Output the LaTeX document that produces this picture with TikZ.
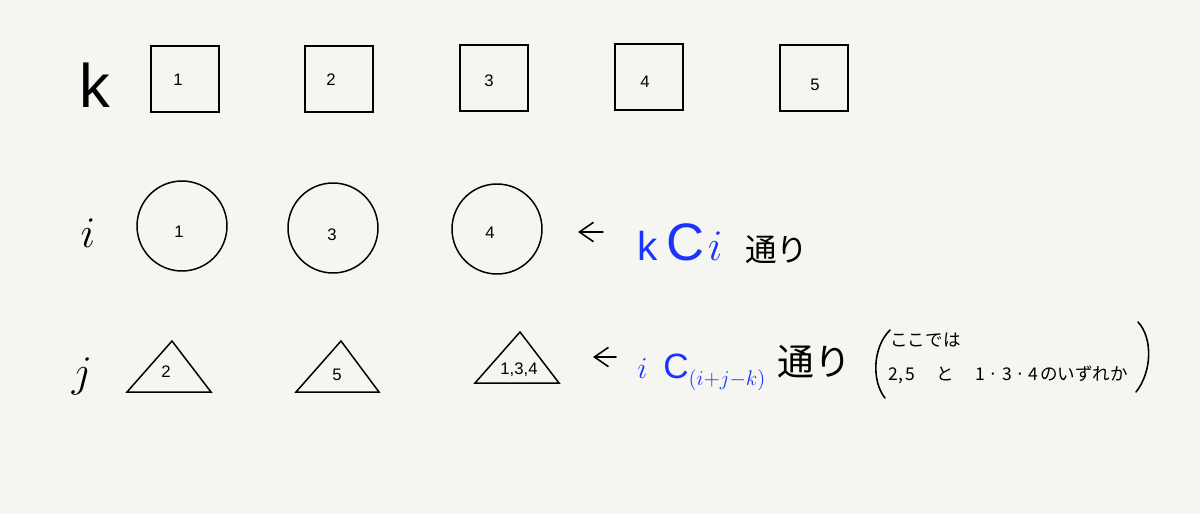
\documentclass[tikz,border=0pt]{standalone}
\usepackage{fontspec}
\setmainfont{Liberation Sans}
\newfontfamily\jp{Noto Sans CJK JP}
\usetikzlibrary{arrows.meta}
\definecolor{paper}{HTML}{F5F5F1}
\definecolor{pen}{HTML}{1A33FF}
\tikzset{
  kbox/.style={draw, line width=1.1pt, minimum width=1.36cm, minimum height=1.32cm, inner sep=0pt},
  iball/.style={draw, circle, line width=0.85pt, minimum size=1.8cm, inner sep=0pt},
  jtri/.style={draw, line width=0.85pt, line join=miter},
  num/.style={font=\fontsize{9.5}{11}\selectfont, inner sep=0pt},
  var/.style={font=\fontsize{36}{40}\selectfont, inner sep=0pt},
  memo/.style={inner sep=0pt, anchor=west},
  hand/.style={line width=0.9pt, line cap=round, -{Straight Barb[length=8pt,width=11pt]}},
  paren/.style={line width=0.9pt, line cap=round}
}
\begin{document}
\begin{tikzpicture}[x=0.02cm, y=-0.02cm]
        \path[fill=paper] (0,0) rectangle (1200,514);
        % row labels
        \node[var] (k) at (95,85) {\fontsize{35}{40}\selectfont k};
        \node[var] (i) at (88,233) {$i$};
        \node[var] (j) at (82,376) {$j$};
        % k : squares
        \node[kbox] (k1) at (185,79) {};
        \node[kbox] (k2) at (339,79) {};
        \node[kbox] (k3) at (494,78) {};
        \node[kbox] (k4) at (649,77) {};
        \node[kbox] (k5) at (814,78) {};
        \node[num] (k1n) at (178,80) {1};
        \node[num] (k2n) at (331,80) {2};
        \node[num] (k3n) at (489,81) {3};
        \node[num] (k4n) at (645,82) {4};
        \node[num] (k5n) at (815,85) {5};
        % i : circles
        \node[iball] (i1) at (182,226) {};
        \node[iball] (i2) at (333,228) {};
        \node[iball] (i3) at (497,229) {};
        \node[num] (i1n) at (179,232) {1};
        \node[num] (i2n) at (332,235) {3};
        \node[num] (i3n) at (490,233) {4};
        % j : triangles
        \draw[jtri] (127,392) -- (172,341) -- (211,392) -- cycle;
        \draw[jtri] (296,392) -- (341,341) -- (379,392) -- cycle;
        \draw[jtri] (475,383) -- (520,332) -- (559,383) -- cycle;
        \node[num] (j1n) at (166,372) {2};
        \node[num] (j2n) at (337,375) {5};
        \node[num] (j3n) at (519,370) {1,3,4};
        % notes
        \node[inner sep=0pt, anchor=base west, text=pen] (kci) at (637,260) {\fontsize{23}{26}\selectfont k\hspace{5pt}\fontsize{30}{34}\selectfont C\hspace{2pt}\fontsize{24}{28}\selectfont$i$};
        \node[memo, font=\jp\fontsize{18}{20}\selectfont] (kcit) at (745,250) {通り};
        \coordinate (a1s) at (603,232);
        \coordinate (a1e) at (578,232);
        \draw[hand] (a1s) -- (a1e);
        \node[inner sep=0pt, anchor=base west, text=pen] (icj) at (637,378) {\fontsize{19}{22}\selectfont$i$\hspace{9pt}\fontsize{20}{24}\selectfont C\fontsize{17}{20}\selectfont\raisebox{-4.5pt}{$\scriptstyle(i+j-k)$}};
        \node[memo, font=\jp\fontsize{21}{24}\selectfont] (icjt) at (777,362) {通り};
        \coordinate (a2s) at (616,357);
        \coordinate (a2e) at (593,357);
        \draw[hand] (a2s) -- (a2e);
        \draw[paren] (890,330) .. controls (872,348) and (872,382) .. (885,398);
        \draw[paren] (1138,322) .. controls (1153,338) and (1152,372) .. (1136,392);
        \node[memo, font=\jp\fontsize{10}{12}\selectfont] (here) at (890,340) {ここでは};
        \node[memo, font=\jp\fontsize{10}{12}\selectfont] (which) at (888,375) {2,\,5\hspace{12pt}と\hspace{12pt}1\hspace{2pt}·\hspace{2pt}3\hspace{2pt}·\hspace{2pt}4\hspace{1pt}のいずれか};
\end{tikzpicture}
\end{document}
